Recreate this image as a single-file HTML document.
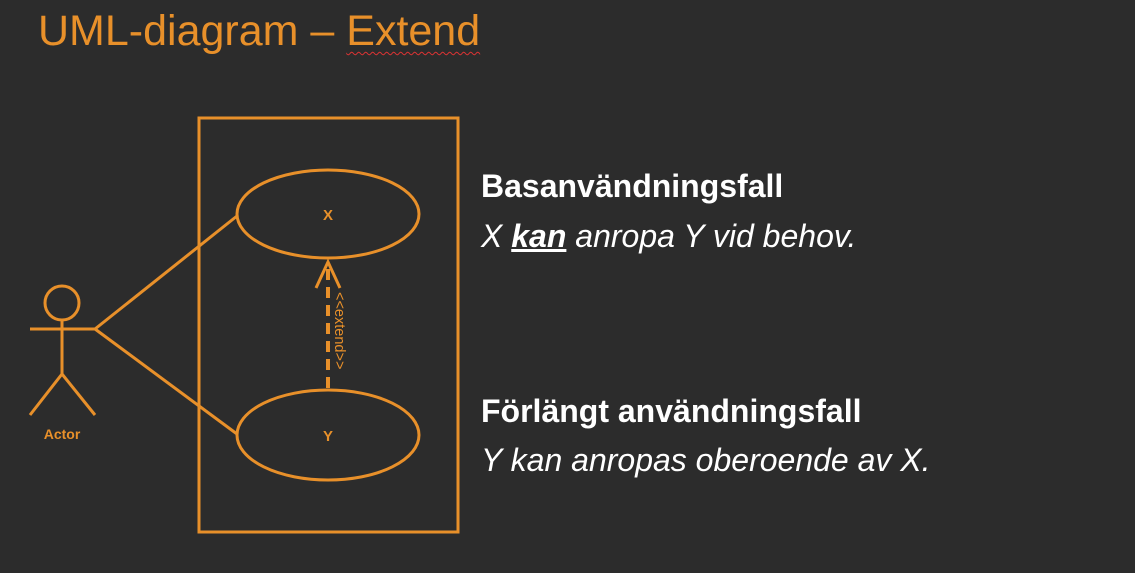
<!DOCTYPE html>
<html><head><meta charset="utf-8"><style>
html,body{margin:0;padding:0;background:#2c2c2c;width:1135px;height:573px;overflow:hidden;font-family:"Liberation Sans",sans-serif}
.t{position:absolute;white-space:nowrap}
</style></head><body>
<div class="t" style="left:38px;top:7px;font-size:43px;color:#e8902a">UML-diagram – <span style="text-decoration:underline wavy #d33;text-underline-offset:6px;text-decoration-thickness:1px">Extend</span></div>
<svg width="1135" height="573" style="position:absolute;left:0;top:0">
<g stroke="#e8902a" stroke-width="3" fill="none">
<rect x="199" y="118" width="259" height="414"/>
<ellipse cx="328" cy="214" rx="91" ry="44"/>
<ellipse cx="328" cy="435" rx="91" ry="45"/>
<circle cx="62" cy="303" r="17"/>
<line x1="30" y1="329" x2="95" y2="329"/>
<line x1="62" y1="320" x2="62" y2="374"/>
<line x1="62" y1="374" x2="30" y2="415"/>
<line x1="62" y1="374" x2="95" y2="415"/>
<line x1="95" y1="329" x2="237" y2="216"/>
<line x1="95" y1="329" x2="237" y2="434"/>
<line x1="328" y1="388" x2="328" y2="264" stroke-dasharray="11,7" stroke-width="4"/>
<polyline points="316,288 328,262 340,288"/>
</g>
<text x="62" y="439" fill="#e8902a" font-size="14" font-weight="bold" text-anchor="middle" font-family="Liberation Sans">Actor</text>
<text x="328" y="220" fill="#e8902a" font-size="15" font-weight="bold" text-anchor="middle" font-family="Liberation Sans">X</text>
<text x="328" y="441" fill="#e8902a" font-size="15" font-weight="bold" text-anchor="middle" font-family="Liberation Sans">Y</text>
<text transform="translate(335,292) rotate(90)" fill="#e8902a" font-size="14.5" font-family="Liberation Sans">&lt;&lt;extend&gt;&gt;</text>
</svg>
<div class="t" style="left:481px;top:168px;font-size:32px;font-weight:bold;color:#fff">Basanvändningsfall</div>
<div class="t" style="left:481px;top:218px;font-size:32px;font-style:italic;color:#fff">X <b style="text-decoration:underline">kan</b> anropa Y vid behov.</div>
<div class="t" style="left:481px;top:393px;font-size:32px;font-weight:bold;color:#fff">Förlängt användningsfall</div>
<div class="t" style="left:481px;top:442px;font-size:32px;font-style:italic;color:#fff">Y kan anropas oberoende av X.</div>
</body></html>
